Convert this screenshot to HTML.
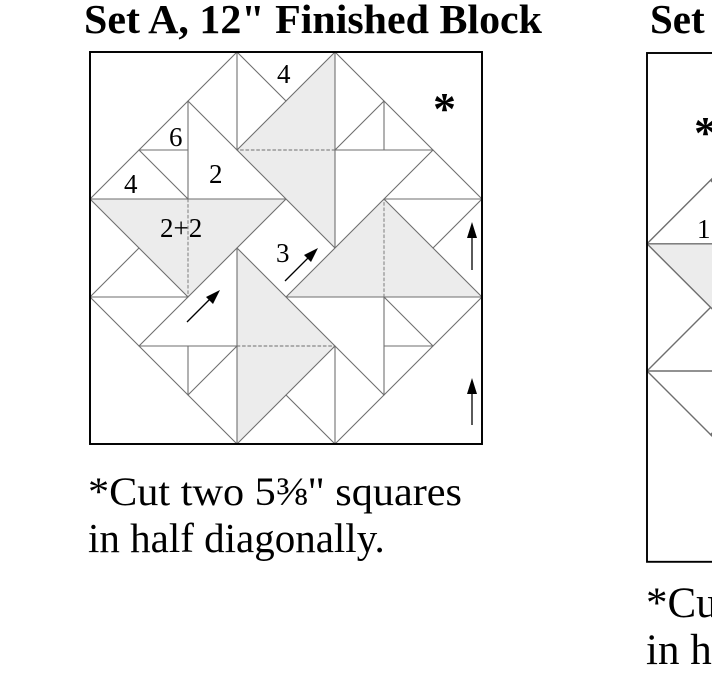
<!DOCTYPE html>
<html><head><meta charset="utf-8"><style>
html,body{margin:0;padding:0;background:#fff;width:712px;height:678px;overflow:hidden}
svg{display:block}
text{font-family:"Liberation Serif",serif;fill:#000}
</style></head><body>
<svg width="712" height="678" viewBox="0 0 712 678" xmlns="http://www.w3.org/2000/svg">
<defs>
  <g id="q">
    <polygon points="0,3 4,3 2,5" fill="#ececec" stroke="none"/>
    <g stroke="#6e6e6e" stroke-width="0.022" fill="none" stroke-linecap="round">
      <line x1="0" y1="3" x2="3" y2="0"/>
      <line x1="0" y1="3" x2="4" y2="3"/>
      <line x1="0" y1="3" x2="2" y2="5"/>
      <line x1="1" y1="6" x2="4" y2="3"/>
      <line x1="2" y1="1" x2="2" y2="3"/>
      <line x1="1" y1="2" x2="2" y2="2"/>
      <line x1="1" y1="2" x2="2" y2="3"/>
      <line x1="0" y1="5" x2="1" y2="4"/>
      <line x1="0" y1="5" x2="2" y2="5"/>
      <line x1="2" y1="3" x2="2" y2="5" stroke-dasharray="0.06 0.05" stroke-width="0.018"/>
    </g>
  </g>
  <g id="blk">
    <use href="#q"/>
    <use href="#q" transform="rotate(90 4 4)"/>
    <use href="#q" transform="rotate(180 4 4)"/>
    <use href="#q" transform="rotate(270 4 4)"/>
  </g>
</defs>

<text x="84" y="33" font-size="41" font-weight="bold" textLength="458" lengthAdjust="spacingAndGlyphs">Set A, 12" Finished Block</text>
<text x="650" y="33" font-size="41" font-weight="bold">Set A</text>

<!-- left block -->
<g transform="translate(90,52) scale(49)">
  <use href="#blk"/>
  <rect x="0" y="0" width="8" height="8" fill="none" stroke="#000" stroke-width="0.04"/>
</g>

<g font-size="27">
  <text x="277" y="83">4</text>
  <text x="169" y="146">6</text>
  <text x="124" y="193">4</text>
  <text x="209" y="183">2</text>
  <text x="160" y="237">2+2</text>
  <text x="276" y="262">3</text>
</g>
<text x="433" y="124" font-size="46" font-weight="bold">*</text>

<g stroke="#000" stroke-width="1.3">
  <line x1="187" y1="322" x2="214" y2="295"/>
  <line x1="285" y1="281" x2="312" y2="254"/>
  <line x1="472" y1="270" x2="472" y2="232"/>
  <line x1="472" y1="425" x2="472" y2="388"/>
</g>
<g fill="#000">
  <polygon points="220,290 206,297 213,304"/>
  <polygon points="318,248 304,255 311,262"/>
  <polygon points="472,222 467,238 477,238"/>
  <polygon points="472,378 467,394 477,394"/>
</g>

<text x="88" y="505" font-size="40" textLength="374" lengthAdjust="spacingAndGlyphs">*Cut two 5⅜" squares</text>
<text x="88" y="552" font-size="41">in half diagonally.</text>

<!-- right block (partially visible) -->
<g transform="translate(647,53) scale(63.6)">
  <use href="#blk"/>
  <rect x="0" y="0" width="8" height="8" fill="none" stroke="#000" stroke-width="0.03"/>
</g>
<text x="694" y="148" font-size="46" font-weight="bold">*</text>
<text x="697" y="238" font-size="27">1</text>

<text x="646" y="617" font-size="43">*Cut two 5⅜" squares</text>
<text x="646" y="664" font-size="43">in half diagonally.</text>
</svg>
</body></html>
